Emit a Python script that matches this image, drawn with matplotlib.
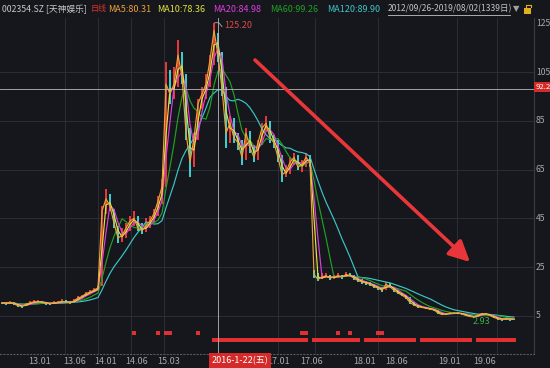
import matplotlib
matplotlib.use("Agg")
import matplotlib.pyplot as plt
import pandas as pd
from matplotlib.patches import Rectangle

plt.rcParams['font.family'] = ['Noto Sans CJK SC', 'DejaVu Sans']

# ---- data (one point per ~10 trading days) ----
close = [10.3, 10.2, 10.5, 10.0, 9.2, 9.0, 9.8, 10.4, 10.8, 10.9,
         10.6, 10.2, 10.0, 10.4, 10.6, 11.0, 10.7, 10.5, 11.2, 12.4,
         13.0, 14.2, 14.8, 15.6, 16.5, 48, 53, 50, 43, 37,
         38, 41, 44, 45, 41, 40, 42, 44, 47, 52,
         58, 100, 96, 100, 112, 103, 80, 68, 78, 92,
         96, 100, 110, 122, 112, 98, 80, 84, 78, 76,
         70, 80, 74, 70, 76, 82, 84, 78, 76, 70,
         63, 64, 68, 70, 66, 67, 70, 68, 22, 20,
         21, 21.5, 20.5, 21, 21.5, 21, 22, 21.5, 20.5, 19.5,
         19, 18.5, 18, 17, 16.5, 15.5, 18, 17, 15.5, 14.5,
         13.5, 12.5, 10.5, 9.5, 8.8, 8.5, 8.2, 7.8, 7.5, 6.2,
         5.6, 5.8, 6.2, 6.0, 6.3, 5.8, 5.2, 4.8, 4.6, 5.4,
         6.0, 5.8, 5.2, 4.4, 3.8, 3.6, 3.9, 3.7, 3.6]
high = [10.8, 10.9, 11.0, 10.6, 10.0, 9.6, 10.4, 11.0, 11.4, 11.6,
        11.3, 10.8, 10.6, 11.0, 11.3, 11.8, 11.4, 11.2, 12.0, 13.2,
        13.8, 15.0, 15.6, 16.4, 17.2, 50, 57, 55, 49, 42,
        41, 43, 46, 48, 46, 43, 45, 46, 49, 54,
        61, 109, 106, 107, 118, 113, 104, 82, 80, 94,
        99, 104, 112, 125.2, 121, 113, 99, 87, 86, 80,
        77, 82, 81, 75, 77, 84, 87, 85, 79, 77,
        71, 67, 70, 72, 71, 69, 72, 71, 24, 22.5,
        22.5, 22.5, 22, 22, 22.5, 22, 23, 22.5, 21.8, 20.8,
        20, 19.5, 19, 18.2, 17.5, 16.8, 19, 18.5, 17, 15.5,
        14.6, 13.6, 12.6, 10.6, 9.6, 9.1, 8.8, 8.4, 8.0, 7.6,
        6.3, 6.2, 6.6, 6.5, 6.7, 6.4, 5.9, 5.3, 5.0, 5.6,
        6.3, 6.2, 5.9, 5.3, 4.5, 4.0, 4.1, 4.1, 3.9]
low = [9.8, 9.7, 9.9, 9.4, 8.6, 8.4, 9.2, 9.9, 10.2, 10.4,
       10.1, 9.7, 9.5, 9.9, 10.1, 10.5, 10.2, 10.0, 10.6, 11.6,
       12.4, 13.4, 14.1, 14.9, 15.6, 17.5, 47, 48, 41, 35,
       35.5, 37, 40, 42, 40, 38.5, 39.5, 41, 43, 46,
       51, 58, 92, 94, 99, 100, 77, 62, 66, 77,
       90, 94, 99, 108, 109, 95, 74, 76, 76, 73,
       67, 69, 72, 68, 69, 75, 81, 76, 74, 68,
       60, 62, 63, 67, 65, 64, 66, 66, 20.5, 19.5,
       20, 20.5, 19.8, 20, 20.5, 20.2, 21, 20.8, 19.8, 19,
       18.3, 17.8, 17.2, 16.4, 15.8, 15, 15.5, 16.3, 15, 14,
       13, 12, 10, 9.1, 8.4, 8.1, 7.8, 7.4, 7.1, 6.0,
       5.3, 5.4, 5.7, 5.7, 5.9, 5.5, 5.0, 4.5, 4.3, 4.6,
       5.3, 5.5, 5.0, 4.2, 3.5, 2.93, 3.4, 3.0, 3.4]

ma_names = ['MA5', 'MA10', 'MA20', 'MA60', 'MA120']
ma_header_values = ['80.31', '78.36', '84.98', '99.26', '89.90']
ma_windows = [1, 2, 3, 6, 12]   # in data points (~10 trading days each)
ma_colors = ['#eea13a', '#e2e23c', '#de3ede', '#23a023', '#3cc6c6']

y_ticks = [5, 25, 45, 65, 85, 105, 125]
x_tick_labels = ['13.01', '13.06', '14.01', '14.06', '15.03', '17.01',
                 '17.06', '18.01', '18.06', '19.01', '19.06']
x_tick_px = [28, 63, 94, 125, 157, 267, 300, 353, 385, 438, 473]
vgrid_idx = [15.75, 24, 32.25, 40.5, 69, 78.25, 94, 113.75, 123.75]

upper_marks = [33, 39, 41, 42, 49, 75, 76, 84, 87, 94, 95]
dense_segments = [(53, 76), (78, 89), (91, 103), (105, 117), (119, 128)]

cross_idx = 54
peak_value = 125.20
low_value = 2.93

# ---- figure ----
W, H = 550, 368
BG = '#15171c'
GRID = '#2b2e36'
fig = plt.figure(figsize=(W / 100, H / 100), dpi=100, facecolor=BG)
ax_top, ax_bot, ax_right = 18, 354, 534
ax = fig.add_axes([0, 1 - ax_bot / H, ax_right / W, (ax_bot - ax_top) / H])
ax.set_facecolor(BG)
ax.set_xlim(-0.5, 133.0)
ppu = 2.44
ax.set_ylim(5 - (ax_bot - 316) / ppu, 5 + (316 - ax_top) / ppu)
for s in ['top', 'left']:
    ax.spines[s].set_visible(False)
ax.spines['right'].set_color('#3a3d46')
ax.spines['right'].set_linewidth(0.8)
ax.spines['bottom'].set_color('#555860')
ax.spines['bottom'].set_linestyle((0, (1, 2)))
ax.spines['bottom'].set_linewidth(0.8)
ax.set_xticks([])
ax.set_yticks([])

# grid
for v in y_ticks[:-1]:
    ax.axhline(v, color=GRID, lw=0.7, zorder=0)
for xi in vgrid_idx:
    ax.axvline(xi, color=GRID, lw=0.7, zorder=0)

# candles (high-low)
x = list(range(len(close)))
cols = []
for i in x:
    prev = close[i - 1] if i > 0 else close[i]
    cols.append('#ff3b3b' if close[i] >= prev else '#45e0e0')
ax.vlines(x, low, high, colors=cols, lw=1.3, zorder=2)

# moving averages
s = pd.Series(close)
order = [3, 4, 2, 1, 0]
for k in order:
    ma = s.rolling(ma_windows[k], min_periods=1).mean()
    ax.plot(x, ma, color=ma_colors[k], lw=0.85, zorder=3 + (5 - k) * 0.1)

# event markers
ax.plot(upper_marks, [-2.0] * len(upper_marks), 's', color='#e03030', ms=2.4,
        mew=0, zorder=2)
dense = []
for a, b in dense_segments:
    dense.extend(range(a, b + 1))
ax.plot(dense, [-4.8] * len(dense), 's', color='#e03030', ms=2.2, mew=0, zorder=2)

# crosshair
ax.axvline(cross_idx, color='#b8b8b8', lw=0.6, zorder=4)
ax.axhline(5 + (316 - 89) / ppu, color='#b8b8b8', lw=0.6, zorder=4)

# peak / low labels
pk = high.index(max(high))
ax.plot([pk + 0.2, pk + 1.2, pk + 2.0], [peak_value, peak_value, peak_value - 1.6],
        color='#b0b0b0', lw=0.6, zorder=5)
ax.text(pk + 2.6, peak_value - 1.2, f'{peak_value:.2f}', color='#e04848',
        fontsize=6.5, va='center', ha='left', zorder=5)
ax.text(119.75, 5 + (316 - 322) / ppu, f'{low_value:.2f}', color='#3cb043',
        fontsize=6.5, va='center', ha='center', zorder=5)

# big arrow
ax.annotate('', xy=((470 - 2) / 4, 5 + (316 - 262) / ppu),
            xytext=((255 - 2) / 4, 5 + (316 - 60) / ppu),
            arrowprops=dict(arrowstyle='-|>,head_length=0.9,head_width=0.45',
                            color='#e8363a', lw=2.6, mutation_scale=14,
                            shrinkA=0, shrinkB=0),
            zorder=6)

# right axis labels
ytr = ax.get_yaxis_transform()
for v in y_ticks:
    ax.text(536 / ax_right, v, str(v), transform=ytr, color='#a8a8a8',
            fontsize=6.2, va='center', ha='left', clip_on=False)
fig.text(535.5 / W, 1 - 87 / H, '92.2', color='white', fontsize=5.6,
         va='center', ha='left',
         bbox=dict(facecolor='#d42a2a', edgecolor='none', pad=0.9), zorder=10)

# x labels
for lab, px in zip(x_tick_labels, x_tick_px):
    fig.text(px / W, 1 - 361 / H, lab, color='#a8a8a8', fontsize=6.5,
             va='center', ha='left', zorder=1)
fig.text(240 / W, 1 - 361 / H, '2016-1-22(五)', color='white', fontsize=6.5,
         va='center', ha='center',
         bbox=dict(facecolor='#d42a2a', edgecolor='none', pad=2.2), zorder=10)

# header
hy = 1 - 9 / H
fig.text(2 / W, hy, '002354.SZ [天神娱乐]', color='#c8c8c8', fontsize=6.3, va='center')
fig.text(91 / W, hy, '日线', color='#e03030', fontsize=5.8, va='center')
hdr_px = [108, 157, 213, 270, 327]
for name, val, c, px in zip(ma_names, ma_header_values, ma_colors, hdr_px):
    fig.text(px / W, hy, f'{name}:{val}', color=c, fontsize=6.5, va='center')
fig.text(388 / W, hy, '2012/09/26-2019/08/02(1339日)', color='#c4c4c4',
         fontsize=6.1, va='center')
fig.add_artist(plt.Line2D([388 / W, 510 / W], [1 - 15 / H, 1 - 15 / H],
                          color='#c4c4c4', lw=0.6))
fig.text(513 / W, hy, '▼', color='#a0a0a0', fontsize=6, va='center',
         family='DejaVu Sans')
fig.add_artist(Rectangle((524 / W, 1 - 14 / H), 7 / W, 6 / H,
                         facecolor='#e0b020', edgecolor='none'))
fig.add_artist(plt.Line2D([526 / W, 526 / W, 531 / W, 531 / W],
                          [1 - 8 / H, 1 - 5 / H, 1 - 5 / H, 1 - 7 / H],
                          color='#e0b020', lw=0.8))

fig.savefig('out.png', dpi=100, facecolor=BG)
